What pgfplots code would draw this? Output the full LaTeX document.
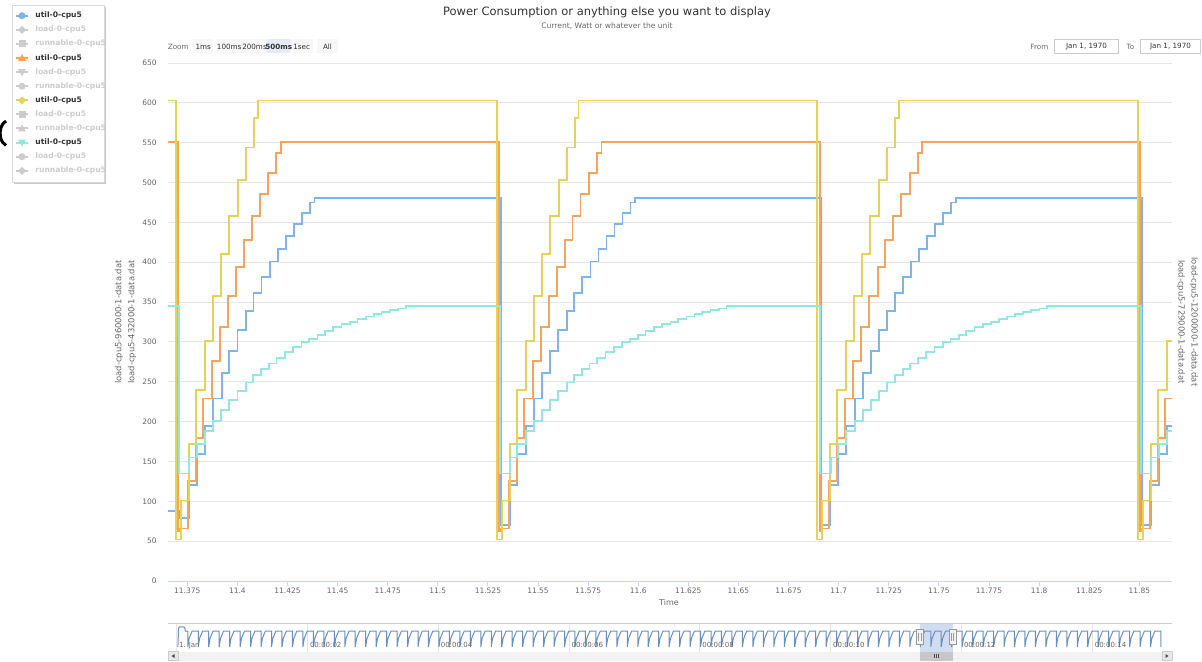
\documentclass[border=0pt]{standalone}
\usepackage{fontspec}
\setmainfont{DejaVu Sans}
\usepackage{pgfplots}
\pgfplotsset{compat=1.18}
\definecolor{cblue}{HTML}{7CB5EC}
\definecolor{corange}{HTML}{F7A35C}
\definecolor{cyellow}{HTML}{E4D354}
\definecolor{ccyan}{HTML}{91E8E1}
\definecolor{gridcol}{HTML}{E6E6E6}
\definecolor{axiscol}{HTML}{CCD6EB}
\definecolor{txt}{HTML}{333333}
\definecolor{lbl}{HTML}{666666}
\definecolor{hid}{HTML}{CCCCCC}
\definecolor{navser}{HTML}{6A8FC6}
\definecolor{maskcol}{HTML}{D0DDF0}
\definecolor{btn}{HTML}{F7F7F7}
\definecolor{btnsel}{HTML}{E6EBF5}
\newcommand\fs[1]{\fontsize{#1}{#1}\selectfont}
\begin{document}
\begin{tikzpicture}[x=0.5pt,y=-0.5pt]
\path[use as bounding box] (0,0) rectangle (1202,662);
% titles
\node[text=txt, font=\fs{5.75}] at (607,12) {Power Consumption or anything else you want to display};
\node[text=lbl, font=\fs{3.8}] at (607,26) {Current, Watt or whatever the unit};
% zoom buttons
\node[text=lbl, font=\fs{3.6}, anchor=west, inner sep=0] at (167.5,46.5) {Zoom};
\fill[btn] (193.3,39.3) rectangle (213.3,53.3);
\fill[btn] (216.7,39.3) rectangle (241.7,53.3);
\fill[btn] (241.7,39.3) rectangle (267.3,53.3);
\fill[btnsel] (267.3,39.3) rectangle (290,53.3);
\fill[btn] (290,39.3) rectangle (313.3,53.3);
\fill[btn] (316.7,39.3) rectangle (338.3,53.3);
\begin{scope}[every node/.style={text=txt, font=\fs{3.6}, inner sep=0}]
\node at (203.3,46.5) {1ms};
\node at (229.2,46.5) {100ms};
\node at (254.5,46.5) {200ms};
\node[font=\bfseries\fs{3.6}] at (278.7,46.5) {500ms};
\node at (301.7,46.5) {1sec};
\node at (327.5,46.5) {All};
\end{scope}
% from / to
\node[text=lbl, font=\fs{3.6}, anchor=west, inner sep=0] at (1030,46.5) {From};
\draw[hid, line width=0.5pt] (1054.5,39.5) rectangle (1118.5,53.5);
\node[text=txt, font=\fs{3.6}, inner sep=0] at (1086.5,46.5) {Jan 1, 1970};
\node[text=lbl, font=\fs{3.6}, inner sep=0] at (1130.5,46.5) {To};
\draw[hid, line width=0.5pt] (1140.5,39.5) rectangle (1200.5,53.5);
\node[text=txt, font=\fs{3.6}, inner sep=0] at (1170.5,46.5) {Jan 1, 1970};
% axis titles
\node[rotate=90, text=lbl, font=\fs{4.2}, inner sep=0] at (119,322) {load-cpu5-960000-1-data.dat};
\node[rotate=90, text=lbl, font=\fs{4.2}, inner sep=0] at (132,322) {load-cpu5-432000-1-data.dat};
\node[rotate=-90, text=lbl, font=\fs{4.2}, inner sep=0] at (1181,322) {load-cpu5-729000-1-data.dat};
\node[rotate=-90, text=lbl, font=\fs{4.2}, inner sep=0] at (1194,322) {load-cpu5-1200000-1-data.dat};
\node[text=lbl, font=\fs{4}, inner sep=0] at (669,603) {Time};
% main axis
\begin{axis}[
  at={(84pt,-290.5pt)}, anchor=south west,
  scale only axis, width=502pt, height=259pt,
  xmin=11.3654, xmax=11.8663, ymin=0, ymax=650,
  axis x line*=bottom, axis y line*=left,
  x axis line style={draw=axiscol, line width=0.5pt, -},
  y axis line style={draw=none},
  xtick={11.375,11.4,11.425,11.45,11.475,11.5,11.525,11.55,11.575,11.6,11.625,11.65,11.675,11.7,11.725,11.75,11.775,11.8,11.825,11.85},
  ytick={0,50,...,650},
  scaled x ticks=false, scaled y ticks=false,
  /pgf/number format/assume math mode=true,
  x tick label style={/pgf/number format/.cd, fixed, precision=3, /tikz/.cd},
  tick label style={font=\fs{3.75}, text=lbl},
  yticklabel style={anchor=east, inner sep=0pt, xshift=-3pt},
  xticklabel style={anchor=north, inner sep=0pt, yshift=-0.8pt},
  tick align=outside, major tick length=2.5pt,
  xtick style={draw=axiscol, line width=0.5pt},
  ytick style={draw=none},
  ymajorgrids, major grid style={draw=gridcol, line width=0.5pt},
  every axis plot/.append style={const plot, no marks, line width=0.9pt},
]
\addplot[cblue] coordinates {
(11.36,88)
(11.37136,79)(11.37585,120)(11.37969,159)(11.38382,195)(11.38796,229)(11.39215,261)(11.39594,289)(11.40012,315)(11.40426,339)(11.40810,361)(11.41209,381)(11.41623,401)(11.42021,417)(11.42420,433)(11.42819,448)(11.43218,462)(11.43617,475)(11.43851,481)
(11.53136,70)(11.53585,120)(11.53969,159)(11.54382,195)(11.54796,229)(11.55215,261)(11.55594,289)(11.56012,315)(11.56426,339)(11.56810,361)(11.57209,381)(11.57623,401)(11.58021,417)(11.58420,433)(11.58819,448)(11.59218,462)(11.59617,475)(11.59851,481)
(11.69136,70)(11.69585,120)(11.69969,159)(11.70382,195)(11.70796,229)(11.71215,261)(11.71594,289)(11.72012,315)(11.72426,339)(11.72810,361)(11.73209,381)(11.73623,401)(11.74021,417)(11.74420,433)(11.74819,448)(11.75218,462)(11.75617,475)(11.75851,481)
(11.85136,70)(11.85585,120)(11.85969,159)(11.86382,195)(11.86796,229)
};
\addplot[corange] coordinates {
(11.36,551)
(11.37051,62)(11.37100,66)(11.37535,125)(11.37934,179)(11.38298,229)(11.38731,276)(11.39130,319)(11.39529,358)(11.39943,394)(11.40327,428)(11.40725,458)(11.41124,486)(11.41538,512)(11.41937,537)(11.42171,551)
(11.53051,62)(11.53100,66)(11.53535,125)(11.53934,179)(11.54298,229)(11.54731,276)(11.55130,319)(11.55529,358)(11.55943,394)(11.56327,428)(11.56725,458)(11.57124,486)(11.57538,512)(11.57937,537)(11.58171,551)
(11.69051,62)(11.69100,66)(11.69535,125)(11.69934,179)(11.70298,229)(11.70731,276)(11.71130,319)(11.71529,358)(11.71943,394)(11.72327,428)(11.72725,458)(11.73124,486)(11.73538,512)(11.73937,537)(11.74171,551)
(11.85051,62)(11.85100,66)(11.85535,125)(11.85934,179)(11.86298,229)(11.86731,276)
};
\addplot[cyellow] coordinates {
(11.36,603)
(11.36937,52)(11.37186,101)(11.37585,172)(11.37934,240)(11.38382,301)(11.38781,358)(11.39180,410)(11.39579,458)(11.40027,503)(11.40426,544)(11.40825,581)(11.41024,603)
(11.52937,52)(11.53186,101)(11.53585,172)(11.53934,240)(11.54382,301)(11.54781,358)(11.55180,410)(11.55579,458)(11.56027,503)(11.56426,544)(11.56825,581)(11.57024,603)
(11.68937,52)(11.69186,101)(11.69585,172)(11.69934,240)(11.70382,301)(11.70781,358)(11.71180,410)(11.71579,458)(11.72027,503)(11.72426,544)(11.72825,581)(11.73024,603)
(11.84937,52)(11.85186,101)(11.85585,172)(11.85934,240)(11.86382,301)(11.86781,358)
};
\addplot[ccyan] coordinates {
(11.36,345)
(11.37086,135)(11.37600,155)(11.37969,171.5)(11.38382,188)(11.38796,201)(11.39195,215)(11.39594,227)(11.40012,238)(11.40426,249)(11.40790,259)(11.41189,266)(11.41573,273)(11.41957,280)(11.42370,287)(11.42784,294)(11.43203,299.5)(11.43582,304)(11.44000,309)(11.44364,314)(11.44778,318.7)(11.45197,322.5)(11.45611,325.4)(11.45995,329)(11.46408,332)(11.46807,335)(11.47191,337.5)(11.47605,340)(11.48018,342)(11.48402,345)
(11.53086,135)(11.53600,155)(11.53969,171.5)(11.54382,188)(11.54796,201)(11.55195,215)(11.55594,227)(11.56012,238)(11.56426,249)(11.56790,259)(11.57189,266)(11.57573,273)(11.57957,280)(11.58370,287)(11.58784,294)(11.59203,299.5)(11.59582,304)(11.60000,309)(11.60364,314)(11.60778,318.7)(11.61197,322.5)(11.61611,325.4)(11.61995,329)(11.62408,332)(11.62807,335)(11.63191,337.5)(11.63605,340)(11.64018,342)(11.64402,345)
(11.69086,135)(11.69600,155)(11.69969,171.5)(11.70382,188)(11.70796,201)(11.71195,215)(11.71594,227)(11.72012,238)(11.72426,249)(11.72790,259)(11.73189,266)(11.73573,273)(11.73957,280)(11.74370,287)(11.74784,294)(11.75203,299.5)(11.75582,304)(11.76000,309)(11.76364,314)(11.76778,318.7)(11.77197,322.5)(11.77611,325.4)(11.77995,329)(11.78408,332)(11.78807,335)(11.79191,337.5)(11.79605,340)(11.80018,342)(11.80402,345)
(11.85086,135)(11.85600,155)(11.85969,171.5)(11.86382,188)(11.86796,201)
};
\end{axis}
% navigator
\fill[maskcol] (919.9,623.5) rectangle (952.6,651.5);
\begin{axis}[
  at={(84pt,-325.75pt)}, anchor=south west,
  scale only axis, width=502pt, height=14pt,
  xmin=-0.1315, xmax=15.22, ymin=-46, ymax=674,
  axis line style={draw=none},
  xtick={0,2,4,6,8,10,12,14}, xticklabels=\empty, ytick=\empty,
  xmajorgrids, major grid style={draw=gridcol, line width=0.5pt},
  tick style={draw=none},
]
\addplot[navser, line width=0.5pt, no marks] coordinates {
(0.02,70)(0.03,560)(0.045,590)(0.11,590)(0.125,560)(0.135,481)
(0.171,481)(0.171,70)(0.191,289)(0.238,481)
(0.331,481)(0.331,70)(0.351,289)(0.398,481)
(0.491,481)(0.491,70)(0.511,289)(0.558,481)
(0.651,481)(0.651,70)(0.671,289)(0.718,481)
(0.811,481)(0.811,70)(0.831,289)(0.878,481)
(0.971,481)(0.971,70)(0.991,289)(1.038,481)
(1.131,481)(1.131,70)(1.151,289)(1.198,481)
(1.291,481)(1.291,70)(1.311,289)(1.358,481)
(1.451,481)(1.451,70)(1.471,289)(1.518,481)
(1.611,481)(1.611,70)(1.631,289)(1.678,481)
(1.771,481)(1.771,70)(1.791,289)(1.838,481)
(1.931,481)(1.931,70)(1.951,289)(1.998,481)
(2.091,481)(2.091,70)(2.111,289)(2.158,481)
(2.251,481)(2.251,70)(2.271,289)(2.318,481)
(2.411,481)(2.411,70)(2.431,289)(2.478,481)
(2.571,481)(2.571,70)(2.591,289)(2.638,481)
(2.731,481)(2.731,70)(2.751,289)(2.798,481)
(2.891,481)(2.891,70)(2.911,289)(2.958,481)
(3.051,481)(3.051,70)(3.071,289)(3.118,481)
(3.211,481)(3.211,70)(3.231,289)(3.278,481)
(3.371,481)(3.371,70)(3.391,289)(3.438,481)
(3.531,481)(3.531,70)(3.551,289)(3.598,481)
(3.691,481)(3.691,70)(3.711,289)(3.758,481)
(3.851,481)(3.851,70)(3.871,289)(3.918,481)
(4.011,481)(4.011,70)(4.031,289)(4.078,481)
(4.171,481)(4.171,70)(4.191,289)(4.238,481)
(4.331,481)(4.331,70)(4.351,289)(4.398,481)
(4.491,481)(4.491,70)(4.511,289)(4.558,481)
(4.651,481)(4.651,70)(4.671,289)(4.718,481)
(4.811,481)(4.811,70)(4.831,289)(4.878,481)
(4.971,481)(4.971,70)(4.991,289)(5.038,481)
(5.131,481)(5.131,70)(5.151,289)(5.198,481)
(5.291,481)(5.291,70)(5.311,289)(5.358,481)
(5.451,481)(5.451,70)(5.471,289)(5.518,481)
(5.611,481)(5.611,70)(5.631,289)(5.678,481)
(5.771,481)(5.771,70)(5.791,289)(5.838,481)
(5.931,481)(5.931,70)(5.951,289)(5.998,481)
(6.091,481)(6.091,70)(6.111,289)(6.158,481)
(6.251,481)(6.251,70)(6.271,289)(6.318,481)
(6.411,481)(6.411,70)(6.431,289)(6.478,481)
(6.571,481)(6.571,70)(6.591,289)(6.638,481)
(6.731,481)(6.731,70)(6.751,289)(6.798,481)
(6.891,481)(6.891,70)(6.911,289)(6.958,481)
(7.051,481)(7.051,70)(7.071,289)(7.118,481)
(7.211,481)(7.211,70)(7.231,289)(7.278,481)
(7.371,481)(7.371,70)(7.391,289)(7.438,481)
(7.531,481)(7.531,70)(7.551,289)(7.598,481)
(7.691,481)(7.691,70)(7.711,289)(7.758,481)
(7.851,481)(7.851,70)(7.871,289)(7.918,481)
(8.011,481)(8.011,70)(8.031,289)(8.078,481)
(8.171,481)(8.171,70)(8.191,289)(8.238,481)
(8.331,481)(8.331,70)(8.351,289)(8.398,481)
(8.491,481)(8.491,70)(8.511,289)(8.558,481)
(8.651,481)(8.651,70)(8.671,289)(8.718,481)
(8.811,481)(8.811,70)(8.831,289)(8.878,481)
(8.971,481)(8.971,70)(8.991,289)(9.038,481)
(9.131,481)(9.131,70)(9.151,289)(9.198,481)
(9.291,481)(9.291,70)(9.311,289)(9.358,481)
(9.451,481)(9.451,70)(9.471,289)(9.518,481)
(9.611,481)(9.611,70)(9.631,289)(9.678,481)
(9.771,481)(9.771,70)(9.791,289)(9.838,481)
(9.931,481)(9.931,70)(9.951,289)(9.998,481)
(10.091,481)(10.091,70)(10.111,289)(10.158,481)
(10.251,481)(10.251,70)(10.271,289)(10.318,481)
(10.411,481)(10.411,70)(10.431,289)(10.478,481)
(10.571,481)(10.571,70)(10.591,289)(10.638,481)
(10.731,481)(10.731,70)(10.751,289)(10.798,481)
(10.891,481)(10.891,70)(10.911,289)(10.958,481)
(11.051,481)(11.051,70)(11.071,289)(11.118,481)
(11.211,481)(11.211,70)(11.231,289)(11.278,481)
(11.371,481)(11.371,70)(11.391,289)(11.438,481)
(11.531,481)(11.531,70)(11.551,289)(11.598,481)
(11.691,481)(11.691,70)(11.711,289)(11.758,481)
(11.851,481)(11.851,70)(11.871,289)(11.918,481)
(12.011,481)(12.011,70)(12.031,289)(12.078,481)
(12.171,481)(12.171,70)(12.191,289)(12.238,481)
(12.331,481)(12.331,70)(12.351,289)(12.398,481)
(12.491,481)(12.491,70)(12.511,289)(12.558,481)
(12.651,481)(12.651,70)(12.671,289)(12.718,481)
(12.811,481)(12.811,70)(12.831,289)(12.878,481)
(12.971,481)(12.971,70)(12.991,289)(13.038,481)
(13.131,481)(13.131,70)(13.151,289)(13.198,481)
(13.291,481)(13.291,70)(13.311,289)(13.358,481)
(13.451,481)(13.451,70)(13.471,289)(13.518,481)
(13.611,481)(13.611,70)(13.631,289)(13.678,481)
(13.771,481)(13.771,70)(13.791,289)(13.838,481)
(13.931,481)(13.931,70)(13.951,289)(13.998,481)
(14.091,481)(14.091,70)(14.111,289)(14.158,481)
(14.251,481)(14.251,70)(14.271,289)(14.318,481)
(14.411,481)(14.411,70)(14.431,289)(14.478,481)
(14.571,481)(14.571,70)(14.591,289)(14.638,481)
(14.731,481)(14.731,70)(14.751,289)(14.798,481)
(14.891,481)(14.891,70)(14.911,289)(14.958,481)
(15.051,481)(15.051,70)
};
\end{axis}
\draw[hid, line width=0.5pt] (168,623.5) -- (1172,623.5);
% navigator labels
\begin{scope}[every node/.style={text=lbl, font=\fs{3.5}, anchor=base west, inner sep=0}]
\node at (178.8,647.5) {1. Jan};
\node at (309.6,647.5) {00:00:02};
\node at (440.4,647.5) {00:00:04};
\node at (571.2,647.5) {00:00:06};
\node at (702.0,647.5) {00:00:08};
\node at (832.8,647.5) {00:00:10};
\node at (963.6,647.5) {00:00:12};
\node at (1094.4,647.5) {00:00:14};
\end{scope}
% handles
\foreach \hx in {919.9,952.6} {
  \draw[black!40, fill=black!5, line width=0.5pt] (\hx-3.5,629.5) rectangle (\hx+3.5,644.5);
  \draw[black!40, line width=0.5pt] (\hx-1.2,633) -- (\hx-1.2,641) (\hx+1.2,633) -- (\hx+1.2,641);
}
% scrollbar
\fill[black!5] (168,651.5) rectangle (1172,660.5);
\fill[black!22] (919.9,651.5) rectangle (952.6,660.5);
\draw[black!70, line width=0.4pt] (934.2,654) -- (934.2,658) (936.2,654) -- (936.2,658) (938.2,654) -- (938.2,658);
\draw[hid, fill=black!9, line width=0.5pt] (168,651.5) rectangle (178,660.5);
\fill[black!70] (171.5,656) -- (174.5,654) -- (174.5,658) -- cycle;
\draw[hid, fill=black!9, line width=0.5pt] (1162,651.5) rectangle (1172,660.5);
\fill[black!70] (1168.5,656) -- (1165.5,654) -- (1165.5,658) -- cycle;
% left glyph
\draw[line width=1.5pt] (6,121) arc[start angle=250, end angle=110, x radius=9, y radius=13];
% legend
\fill[black!22] (13.5,7.5) rectangle (105.5,184.5);
\draw[black!15, fill=white, line width=0.5pt] (12,6) rectangle (104,183);
\begin{scope}[line width=1pt]
\draw[cblue] (16,15.7) -- (28,15.7); \fill[cblue] (22,15.7) circle (3.5);
\draw[hid] (16,29.8) -- (28,29.8); \fill[hid] (22,25.8) -- (26,29.8) -- (22,33.8) -- (18,29.8) -- cycle;
\draw[hid] (16,43.9) -- (28,43.9); \fill[hid] (18.5,40.4) rectangle (25.5,47.4);
\draw[corange] (16,58) -- (28,58); \fill[corange] (22,54) -- (26,61) -- (18,61) -- cycle;
\draw[hid] (16,72.1) -- (28,72.1); \fill[hid] (22,76.1) -- (26,69.1) -- (18,69.1) -- cycle;
\draw[hid] (16,86.2) -- (28,86.2); \fill[hid] (22,86.2) circle (3.5);
\draw[cyellow] (16,100.3) -- (28,100.3); \fill[cyellow] (22,96.3) -- (26,100.3) -- (22,104.3) -- (18,100.3) -- cycle;
\draw[hid] (16,114.4) -- (28,114.4); \fill[hid] (18.5,110.9) rectangle (25.5,117.9);
\draw[hid] (16,128.5) -- (28,128.5); \fill[hid] (22,124.5) -- (26,131.5) -- (18,131.5) -- cycle;
\draw[ccyan] (16,142.6) -- (28,142.6); \fill[ccyan] (22,146.6) -- (26,139.6) -- (18,139.6) -- cycle;
\draw[hid] (16,156.7) -- (28,156.7); \fill[hid] (22,156.7) circle (3.5);
\draw[hid] (16,170.8) -- (28,170.8); \fill[hid] (22,166.8) -- (26,170.8) -- (22,174.8) -- (18,170.8) -- cycle;
\end{scope}
\begin{scope}
\clip (0,0) rectangle (106.5,200);
\begin{scope}[every node/.style={font=\bfseries\fs{3.8}, anchor=west, inner sep=0}]
\node[text=txt] at (35,15.7) {util-0-cpu5};
\node[text=hid] at (35,29.8) {load-0-cpu5};
\node[text=hid] at (35,43.9) {runnable-0-cpu5};
\node[text=txt] at (35,58) {util-0-cpu5};
\node[text=hid] at (35,72.1) {load-0-cpu5};
\node[text=hid] at (35,86.2) {runnable-0-cpu5};
\node[text=txt] at (35,100.3) {util-0-cpu5};
\node[text=hid] at (35,114.4) {load-0-cpu5};
\node[text=hid] at (35,128.5) {runnable-0-cpu5};
\node[text=txt] at (35,142.6) {util-0-cpu5};
\node[text=hid] at (35,156.7) {load-0-cpu5};
\node[text=hid] at (35,170.8) {runnable-0-cpu5};
\end{scope}
\end{scope}
\end{tikzpicture}
\end{document}
